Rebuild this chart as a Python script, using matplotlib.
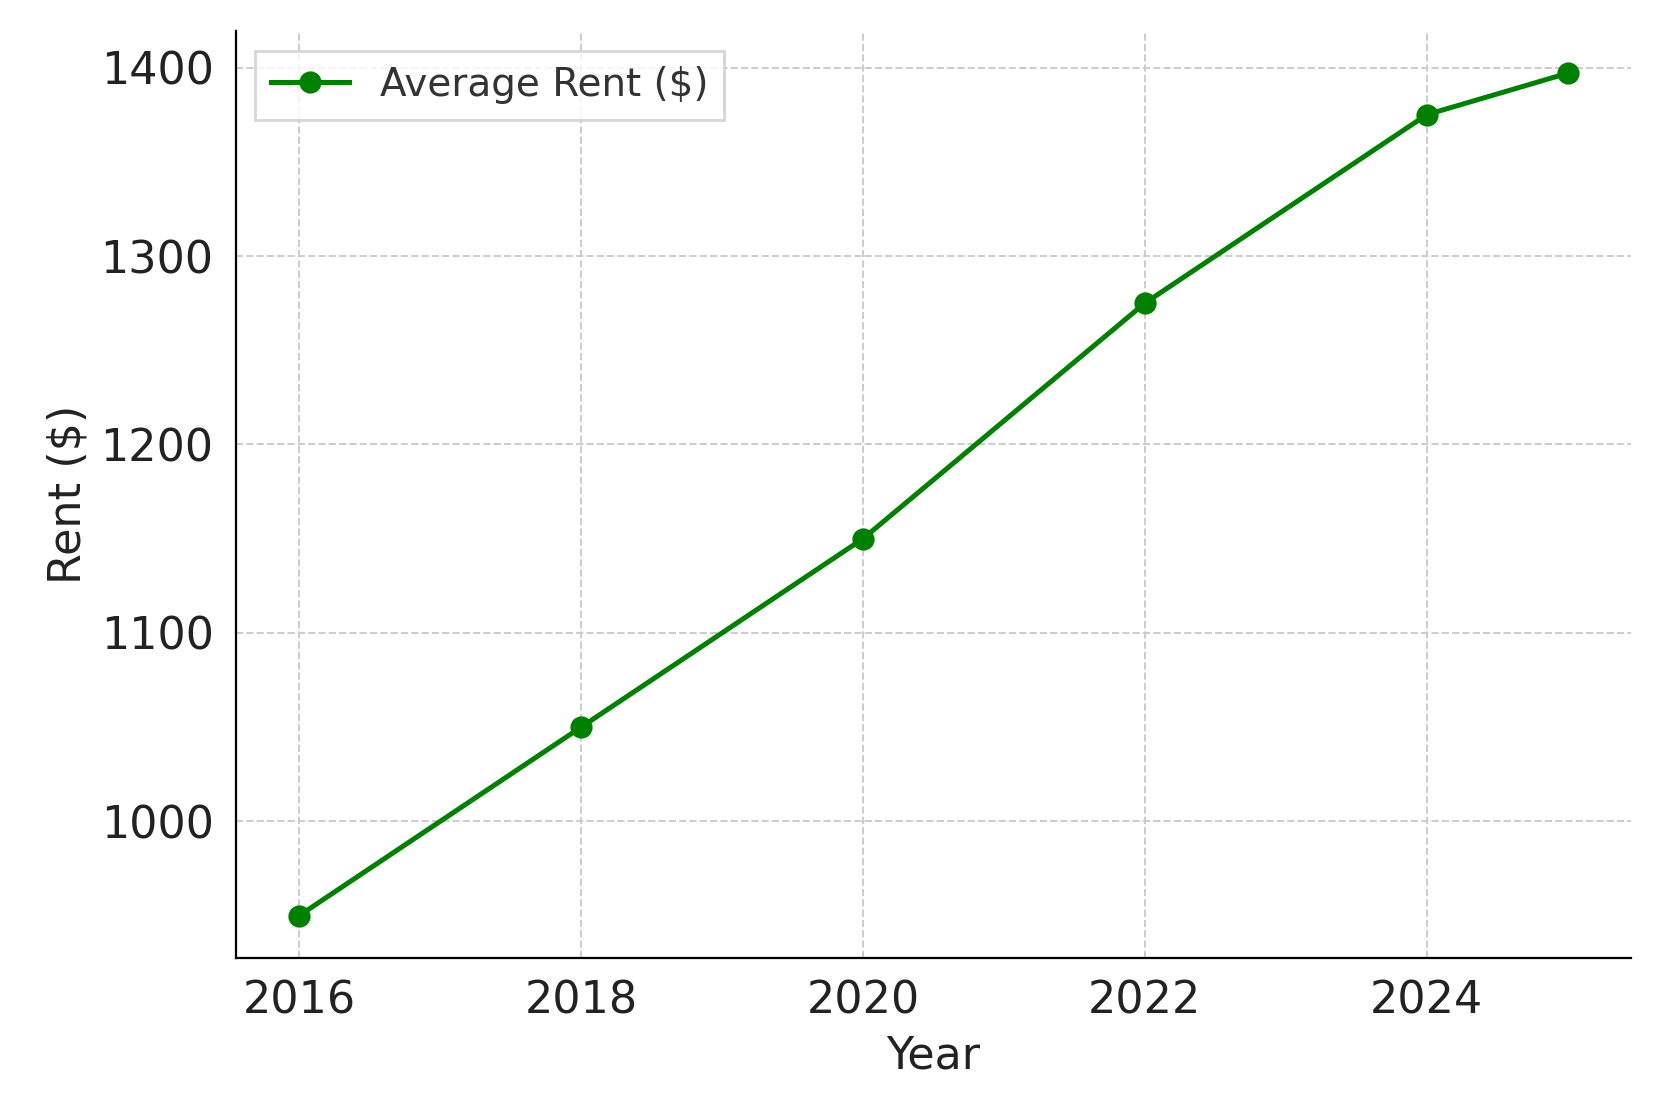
import matplotlib
matplotlib.use('Agg')
import matplotlib.pyplot as plt

years = [2016, 2018, 2020, 2022, 2024, 2025]
rent = [950, 1050, 1150, 1275, 1375, 1397]

fig, ax = plt.subplots(figsize=(8.305, 5.555), dpi=200)
ax.plot(years, rent, marker='o', color='green', linewidth=1.8, markersize=7, label='Average Rent ($)')

ax.set_xlabel('Year', fontsize=16, color='#222222')
ax.set_ylabel('Rent ($)', fontsize=16, color='#222222')
ax.set_xticks([2016, 2018, 2020, 2022, 2024])
ax.tick_params(labelsize=16, direction='in', length=0, colors='#222222', pad=8)
ax.grid(True, linestyle='--', color='#cccccc', linewidth=0.7)
ax.spines['top'].set_visible(False)
ax.spines['right'].set_visible(False)
leg = ax.legend(loc='upper left', fontsize=14, fancybox=False)
for t in leg.get_texts():
    t.set_color('#333333')

fig.subplots_adjust(left=0.142, right=0.982, top=0.972, bottom=0.138)
fig.savefig('out.png')
